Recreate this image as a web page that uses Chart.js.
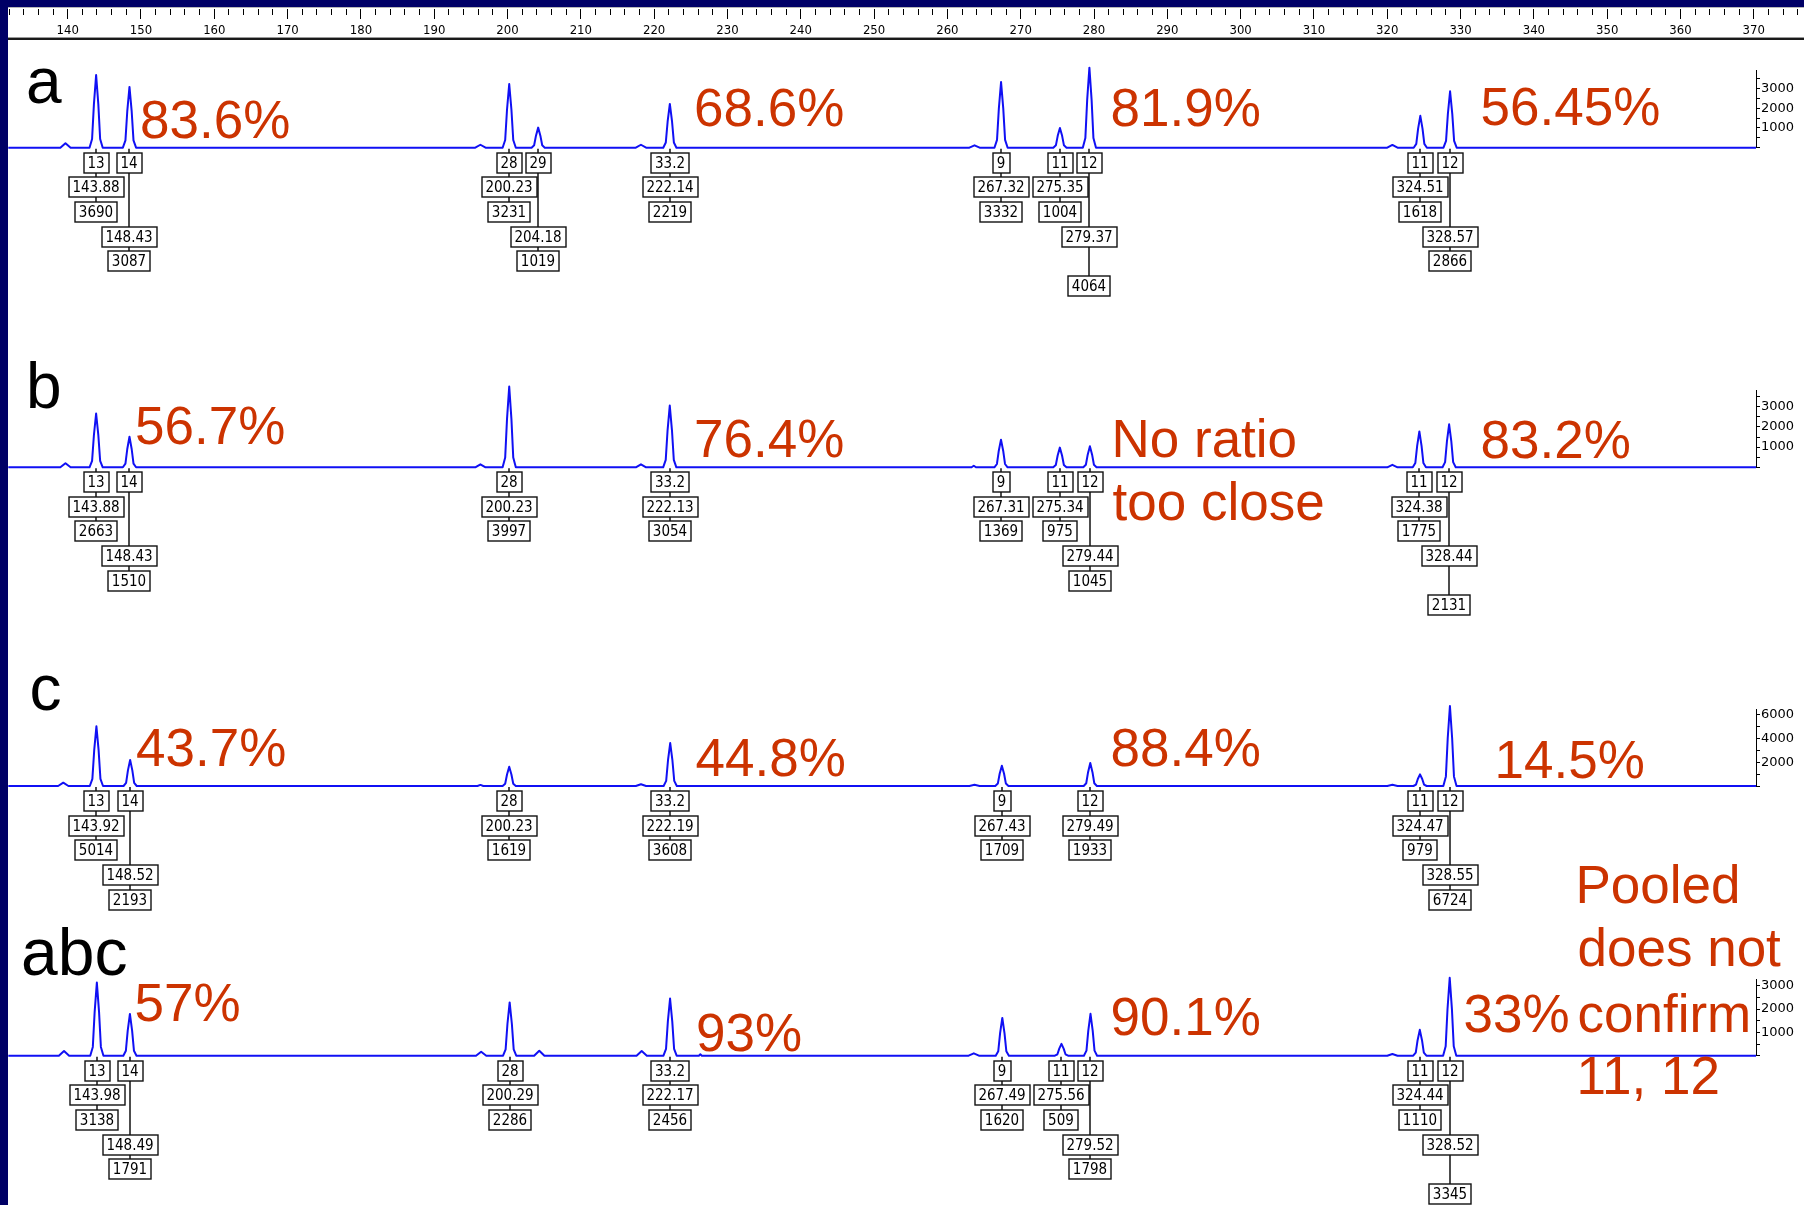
<!DOCTYPE html>
<html>
<head>
<meta charset="utf-8">
<script src="https://cdn.jsdelivr.net/npm/chart.js@4.4.1/dist/chart.umd.min.js"></script>
<style>
  html, body { margin: 0; padding: 0; }
  body { width: 1804px; height: 1205px; background: #ffffff; position: relative; overflow: hidden; }
  canvas { position: absolute; left: 0; }
  .note { position: absolute; white-space: nowrap; line-height: 1; font-family: "Liberation Sans", Arial, sans-serif; }
  .bar { position: absolute; }
</style>
</head>
<body>
<div class="bar" style="left:0;top:7px;width:1804px;height:1px;background:#b8b8b8"></div>
<div class="bar" style="left:0;top:37px;width:1804px;height:1px;background:#9a9a9a"></div>
<div class="bar" style="left:0;top:38px;width:1804px;height:2px;background:#1a1a1a"></div>
<canvas id="ruler" width="1804" height="37" style="top:0"></canvas>
<canvas id="panelA" width="1804" height="360" style="top:40px"></canvas>
<canvas id="panelB" width="1804" height="360" style="top:320px"></canvas>
<canvas id="panelC" width="1804" height="360" style="top:600px"></canvas>
<canvas id="panelABC" width="1804" height="305" style="top:900px"></canvas>
<div id="notes"></div>
<div class="bar" style="left:0;top:0;width:1804px;height:7px;background:#000066"></div>
<div class="bar" style="left:0;top:0;width:8px;height:1205px;background:#000066"></div>
<script>
// ---------------- DATA ----------------
// Ruler (size in bp) tick labels
const rulerLabels = [140,150,160,170,180,190,200,210,220,230,240,250,260,270,280,290,300,310,320,330,340,350,360,370];

// Panel a
const alleleA = ['13','14','28','29','33.2','9','11','12','11','12'];
const sizeA   = [143.88,148.43,200.23,204.18,222.14,267.32,275.35,279.37,324.51,328.57];
const heightA = [3690,3087,3231,1019,2219,3332,1004,4064,1618,2866];
const traceA = [
  [131.9,0],
  [139.0,0],[139.7,230],[140.4,0],
  [142.98,0],[143.33,443],[143.58,2214],[143.88,3690],[144.18,2214],[144.43,443],[144.78,0],
  [147.53,0],[147.88,370],[148.13,1852],[148.43,3087],[148.73,1852],[148.98,370],[149.33,0],
  [195.6,0],[196.3,150],[197.0,0],
  [199.33,0],[199.68,388],[199.93,1939],[200.23,3231],[200.53,1939],[200.78,388],[201.13,0],
  [203.28,0],[203.63,122],[203.88,611],[204.18,1019],[204.48,611],[204.73,122],[205.08,0],
  [217.5,0],[218.2,150],[218.9,0],
  [221.24,0],[221.59,266],[221.84,1331],[222.14,2219],[222.44,1331],[222.69,266],[223.04,0],
  [263.0,0],[263.7,120],[264.4,0],
  [266.42,0],[266.77,400],[267.02,1999],[267.32,3332],[267.62,1999],[267.87,400],[268.22,0],
  [274.45,0],[274.80,120],[275.05,602],[275.35,1004],[275.65,602],[275.90,120],[276.25,0],
  [278.47,0],[278.82,488],[279.07,2438],[279.37,4064],[279.67,2438],[279.92,488],[280.27,0],
  [320.0,0],[320.7,140],[321.4,0],
  [323.61,0],[323.96,194],[324.21,971],[324.51,1618],[324.81,971],[325.06,194],[325.41,0],
  [327.67,0],[328.02,344],[328.27,1720],[328.57,2866],[328.87,1720],[329.12,344],[329.47,0],
  [370.3,0]
];

// Panel b
const alleleB = ['13','14','28','33.2','9','11','12','11','12'];
const sizeB   = [143.88,148.43,200.23,222.13,267.31,275.34,279.44,324.38,328.44];
const heightB = [2663,1510,3997,3054,1369,975,1045,1775,2131];
const traceB = [
  [131.9,0],
  [139.0,0],[139.7,200],[140.4,0],
  [142.98,0],[143.33,320],[143.58,1598],[143.88,2663],[144.18,1598],[144.43,320],[144.78,0],
  [147.53,0],[147.88,181],[148.13,906],[148.43,1510],[148.73,906],[148.98,181],[149.33,0],
  [195.6,0],[196.3,150],[197.0,0],
  [199.33,0],[199.68,480],[199.93,2398],[200.23,3997],[200.53,2398],[200.78,480],[201.13,0],
  [217.5,0],[218.2,150],[218.9,0],
  [221.23,0],[221.58,366],[221.83,1832],[222.13,3054],[222.43,1832],[222.68,366],[223.03,0],
  [263.3,0],[263.6,80],[263.9,0],
  [266.41,0],[266.76,164],[267.01,821],[267.31,1369],[267.61,821],[267.86,164],[268.21,0],
  [274.44,0],[274.79,117],[275.04,585],[275.34,975],[275.64,585],[275.89,117],[276.24,0],
  [278.54,0],[278.89,125],[279.14,627],[279.44,1045],[279.74,627],[279.99,125],[280.34,0],
  [320.0,0],[320.7,120],[321.4,0],
  [323.48,0],[323.83,213],[324.08,1065],[324.38,1775],[324.68,1065],[324.93,213],[325.28,0],
  [327.54,0],[327.89,256],[328.14,1279],[328.44,2131],[328.74,1279],[328.99,256],[329.34,0],
  [370.3,0]
];

// Panel c
const alleleC = ['13','14','28','33.2','9','12','11','12'];
const sizeC   = [143.92,148.52,200.23,222.19,267.43,279.49,324.47,328.55];
const heightC = [5014,2193,1619,3608,1709,1933,979,6724];
const traceC = [
  [131.9,0],
  [138.7,0],[139.4,280],[140.1,0],
  [143.02,0],[143.37,602],[143.62,3008],[143.92,5014],[144.22,3008],[144.47,602],[144.82,0],
  [147.62,0],[147.97,263],[148.22,1316],[148.52,2193],[148.82,1316],[149.07,263],[149.42,0],
  [195.9,0],[196.3,90],[196.7,0],
  [199.33,0],[199.68,194],[199.93,971],[200.23,1619],[200.53,971],[200.78,194],[201.13,0],
  [217.5,0],[218.2,150],[218.9,0],
  [221.29,0],[221.64,433],[221.89,2165],[222.19,3608],[222.49,2165],[222.74,433],[223.09,0],
  [263.0,0],[263.7,100],[264.4,0],
  [266.53,0],[266.88,205],[267.13,1025],[267.43,1709],[267.73,1025],[267.98,205],[268.33,0],
  [278.59,0],[278.94,232],[279.19,1160],[279.49,1933],[279.79,1160],[280.04,232],[280.39,0],
  [320.0,0],[320.7,100],[321.4,0],
  [323.57,0],[323.92,117],[324.17,587],[324.47,979],[324.77,587],[325.02,117],[325.37,0],
  [327.65,0],[328.00,807],[328.25,4034],[328.55,6724],[328.85,4034],[329.10,807],[329.45,0],
  [370.3,0]
];

// Panel abc (pooled)
const alleleABC = ['13','14','28','33.2','9','11','12','11','12'];
const sizeABC   = [143.98,148.49,200.29,222.17,267.49,275.56,279.52,324.44,328.52];
const heightABC = [3138,1791,2286,2456,1620,509,1798,1110,3345];
const traceABC = [
  [131.9,0],
  [138.8,0],[139.5,200],[140.2,0],
  [143.08,0],[143.43,377],[143.68,1883],[143.98,3138],[144.28,1883],[144.53,377],[144.88,0],
  [147.59,0],[147.94,215],[148.19,1075],[148.49,1791],[148.79,1075],[149.04,215],[149.39,0],
  [195.7,0],[196.4,170],[197.1,0],
  [199.39,0],[199.74,274],[199.99,1372],[200.29,2286],[200.59,1372],[200.84,274],[201.19,0],
  [203.63,0],[204.33,215],[205.03,0],
  [217.6,0],[218.3,200],[219.0,0],
  [221.27,0],[221.62,295],[221.87,1474],[222.17,2456],[222.47,1474],[222.72,295],[223.07,0],
  [226.1,0],[226.3,60],[226.5,0],
  [262.9,0],[263.6,100],[264.3,0],
  [266.59,0],[266.94,194],[267.19,972],[267.49,1620],[267.79,972],[268.04,194],[268.39,0],
  [274.66,0],[275.01,61],[275.26,305],[275.56,509],[275.86,305],[276.11,61],[276.46,0],
  [278.62,0],[278.97,216],[279.22,1079],[279.52,1798],[279.82,1079],[280.07,216],[280.42,0],
  [320.0,0],[320.7,70],[321.4,0],
  [323.54,0],[323.89,133],[324.14,666],[324.44,1110],[324.74,666],[324.99,133],[325.34,0],
  [327.62,0],[327.97,401],[328.22,2007],[328.52,3345],[328.82,2007],[329.07,401],[329.42,0],
  [370.3,0]
];

// Y-axis ticks and labels (RFU)
const yTicksAB   = [0,500,1000,1500,2000,2500,3000,3500];
const yLabelsAB  = [1000,2000,3000];
const yTicksC    = [0,1000,2000,3000,4000,5000,6000];
const yLabelsC   = [2000,4000,6000];
const yTicksABC  = [0,500,1000,1500,2000,2500,3000];
const yLabelsABC = [1000,2000,3000];

// Annotation texts
const panelNames = ['a','b','c','abc'];
const ratioTexts = ['83.6%','68.6%','81.9%','56.45%',
                    '56.7%','76.4%','No ratio','too close','83.2%',
                    '43.7%','44.8%','88.4%','14.5%',
                    '57%','93%','90.1%','33%','Pooled','does not','confirm','11, 12'];

// ---------------- LAYOUT / STYLE ----------------
const X_MIN = 131.86, X_MAX = 370.3, RULER_MAX = 376.85;
const TRACE_COLOR = '#1010f4';
const NOTE_COLOR = '#cc3300';
// label-box rows below baseline for [size, height] (layout)
const rowsA   = [[1,2],[3,4],[1,2],[3,4],[1,2],[1,2],[1,2],[3,5],[1,2],[3,4]];
const rowsB   = [[1,2],[3,4],[1,2],[1,2],[1,2],[1,2],[3,4],[1,2],[3,5]];
const rowsC   = [[1,2],[3,4],[1,2],[1,2],[1,2],[1,2],[1,2],[3,4]];
const rowsABC = [[1,2],[3,4],[1,2],[1,2],[1,2],[1,2],[3,4],[1,2],[3,5]];
const ROW_OFFSETS = [15, 39.5, 64, 89, 113.5, 138];
const BOX_FONT = '15px "DejaVu Sans Condensed", "Liberation Sans Narrow", "DejaVu Sans", sans-serif';

const panelNamePos = [[26,103],[26,408.5],[29.5,710],[21,975]];
const ratioPos = [[140,137.5],[694,125.5],[1110.5,125.5],[1480.5,125],
                  [135,444],[694,457],[1111.5,457],[1112.5,520],[1480.5,458],
                  [136,765.5],[695.5,776],[1110.5,765.5],[1494.5,778],
                  [134.5,1021],[696,1051],[1110.5,1035],[1463.5,1032],[1575.5,903],[1577.5,966],[1577.5,1032],[1576.5,1094]];

// ---------------- PLUGIN: peak label boxes ----------------
const peakLabelPlugin = {
  id: 'peakLabels',
  afterDatasetsDraw(chart, args, opts) {
    if (!opts || !opts.alleles) return;
    const ctx = chart.ctx, xs = chart.scales.x, ys = chart.scales.y;
    const base = ys.getPixelForValue(0);
    ctx.save();
    ctx.font = BOX_FONT;
    ctx.textAlign = 'center';
    ctx.textBaseline = 'middle';
    ctx.strokeStyle = '#111';
    opts.alleles.forEach((al, i) => {
      const px = Math.round(xs.getPixelForValue(opts.sizes[i]));
      const rows = [0, opts.rows[i][0], opts.rows[i][1]];
      const texts = [al, opts.sizes[i].toFixed(2), String(opts.heights[i])];
      ctx.lineWidth = 1.5;
      ctx.beginPath();
      ctx.moveTo(px, base + 1);
      ctx.lineTo(px, base + ROW_OFFSETS[rows[2]]);
      ctx.stroke();
      texts.forEach((t, k) => {
        const cy = Math.round(base + ROW_OFFSETS[rows[k]]);
        const w = Math.round(ctx.measureText(t).width) + 8;
        const bx = Math.round(px - w / 2), by = cy - 10;
        ctx.fillStyle = '#fff';
        ctx.fillRect(bx, by, w, 20);
        ctx.lineWidth = 1.4;
        ctx.strokeRect(bx, by, w, 20);
        ctx.fillStyle = '#000';
        ctx.fillText(t, px, cy + 1);
      });
    });
    ctx.restore();
  }
};

// ---------------- RULER ----------------
new Chart(document.getElementById('ruler'), {
  type: 'line',
  data: { datasets: [] },
  options: {
    responsive: false, animation: false, devicePixelRatio: 1,
    layout: { padding: { left: 8, right: 0, top: 9, bottom: 0 } },
    plugins: { legend: { display: false }, tooltip: { enabled: false } },
    scales: {
      x: {
        type: 'linear', position: 'bottom', min: X_MIN, max: RULER_MAX,
        afterFit: s => { s.height = 22; },
        ticks: {
          stepSize: 2, autoSkip: false, maxRotation: 0, minRotation: 0, includeBounds: false, padding: 4,
          callback: v => rulerLabels.includes(v) ? String(v) : '',
          font: { family: '"DejaVu Sans Condensed", "DejaVu Sans", sans-serif', size: 13 }, color: '#000'
        },
        grid: {
          drawOnChartArea: true, drawTicks: true, tickLength: 4, color: '#000', lineWidth: 1,
          tickColor: c => (c.tick && rulerLabels.includes(c.tick.value)) ? '#000' : 'rgba(0,0,0,0)'
        },
        border: { display: false }
      },
      y: { display: false, min: 0, max: 1 }
    }
  }
});

// ---------------- PANELS ----------------
function makePanel(id, trace, yMax, yTicks, yLabels, labelOpts, pad) {
  return new Chart(document.getElementById(id), {
    type: 'line',
    data: { datasets: [{
      data: trace.map(p => ({ x: p[0], y: p[1] })),
      borderColor: TRACE_COLOR, borderWidth: 2, borderJoinStyle: 'round',
      pointRadius: 0, tension: 0, fill: false, clip: false
    }] },
    options: {
      responsive: false, animation: false, devicePixelRatio: 1,
      layout: { padding: pad },
      plugins: { legend: { display: false }, tooltip: { enabled: false }, peakLabels: labelOpts },
      scales: {
        x: { type: 'linear', min: X_MIN, max: X_MAX, display: false },
        y: {
          type: 'linear', position: 'right', min: 0, max: yMax,
          afterBuildTicks: s => { s.ticks = yTicks.map(v => ({ value: v })); },
          afterFit: s => { s.width = 48; },
          grid: { drawOnChartArea: false, drawTicks: true, tickLength: 4, color: '#000', tickColor: '#000', tickWidth: 1 },
          border: { display: true, color: '#000', width: 1 },
          ticks: {
            autoSkip: false, padding: 1, color: '#000',
            font: { family: '"DejaVu Sans", sans-serif', size: 13 },
            callback: v => yLabels.includes(v) ? String(v) : ''
          }
        }
      }
    },
    plugins: [peakLabelPlugin]
  });
}

makePanel('panelA', traceA, 3944, yTicksAB, yLabelsAB,
  { alleles: alleleA, sizes: sizeA, heights: heightA, rows: rowsA },
  { left: 8, right: 0, top: 30, bottom: 252.3 });
makePanel('panelB', traceB, 3827, yTicksAB, yLabelsAB,
  { alleles: alleleB, sizes: sizeB, heights: heightB, rows: rowsB },
  { left: 8, right: 0, top: 70, bottom: 212.7 });
makePanel('panelC', traceC, 6445, yTicksC, yLabelsC,
  { alleles: alleleC, sizes: sizeC, heights: heightC, rows: rowsC },
  { left: 8, right: 0, top: 109.3, bottom: 174 });
makePanel('panelABC', traceABC, 3279, yTicksABC, yLabelsABC,
  { alleles: alleleABC, sizes: sizeABC, heights: heightABC, rows: rowsABC },
  { left: 8, right: 0, top: 79.3, bottom: 149.3 });

// ---------------- TEXT ANNOTATIONS ----------------
const notes = document.getElementById('notes');
function addNote(text, left, baseline, size, color) {
  const d = document.createElement('div');
  d.className = 'note';
  d.textContent = text;
  d.style.left = left + 'px';
  d.style.top = (baseline - 0.8465 * size) + 'px';
  d.style.fontSize = size + 'px';
  d.style.color = color;
  notes.appendChild(d);
}
panelNames.forEach((t, i) => addNote(t, panelNamePos[i][0], panelNamePos[i][1], i === 3 ? 66 : 64, '#000'));
ratioTexts.forEach((t, i) => addNote(t, ratioPos[i][0], ratioPos[i][1], 53, NOTE_COLOR));
</script>
</body>
</html>
